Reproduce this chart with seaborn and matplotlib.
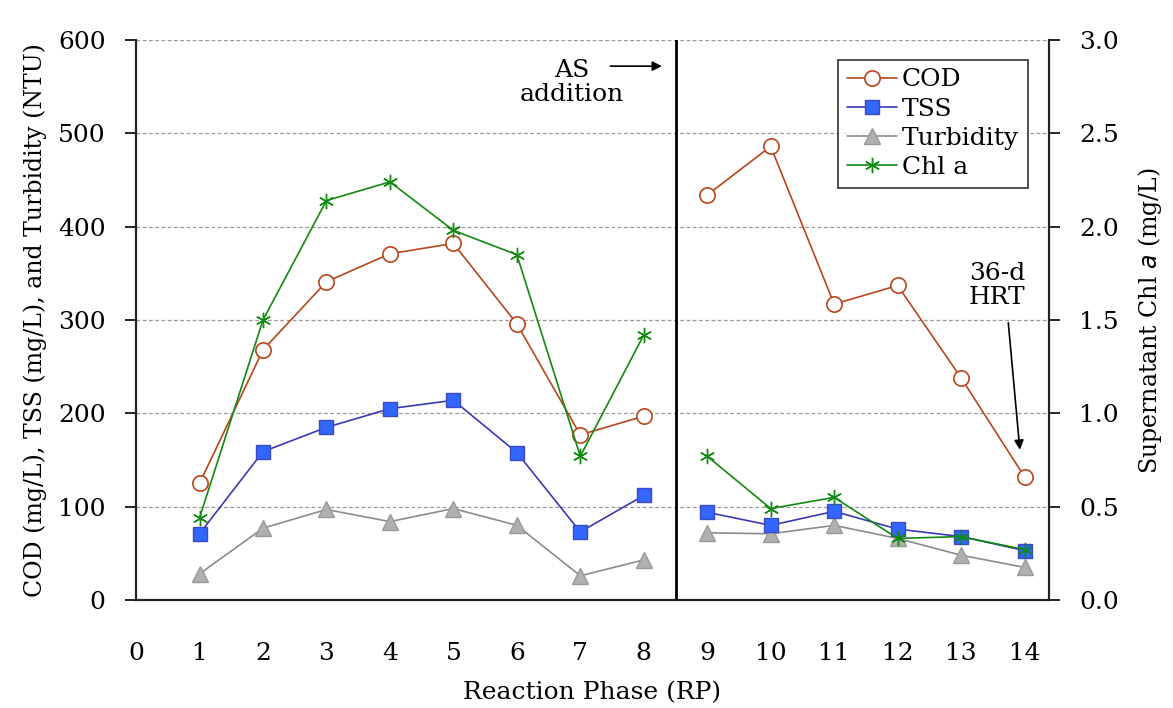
import numpy as np
import pandas as pd
import seaborn as sns
import matplotlib.pyplot as plt
from matplotlib.lines import Line2D

# reaction phases, split by the AS addition at 8.5
phase_a = [1, 2, 3, 4, 5, 6, 7, 8]
phase_b = [9, 10, 11, 12, 13, 14]

cod_a = [125, 268, 341, 371, 382, 296, 177, 197]
cod_b = [434, 486, 317, 337, 238, 132]
tss_a = [71, 159, 185, 205, 214, 158, 73, 112]
tss_b = [94, 80, 95, 76, 68, 53]
turb_a = [28, 77, 97, 84, 98, 80, 26, 43]
turb_b = [72, 71, 80, 66, 48, 35]
chla_a = [0.44, 1.50, 2.14, 2.24, 1.98, 1.85, 0.77, 1.42]
chla_b = [0.77, 0.49, 0.55, 0.33, 0.34, 0.27]

x_ticks = list(range(0, 15))
left_ticks = [0, 100, 200, 300, 400, 500, 600]
right_ticks = [0.0, 0.5, 1.0, 1.5, 2.0, 2.5, 3.0]

sns.set_style("white")
plt.rcParams['font.family'] = ['DejaVu Serif']
plt.rcParams['text.color'] = 'black'
plt.rcParams['axes.labelcolor'] = 'black'

fig = plt.figure(figsize=(11.73, 7.08), dpi=100)
ax = fig.add_axes([0.116, 0.1525, 0.778, 0.791])
ax2 = ax.twinx()

styles = {
    'COD': dict(color='#B8461B', marker='o', markersize=11, markerfacecolor='white',
                markeredgecolor='#B8461B', markeredgewidth=1.2, linewidth=1.2),
    'TSS': dict(color='#3A3AB8', marker='s', markersize=10, markerfacecolor='#3366FF',
                markeredgecolor='#3A4AC0', markeredgewidth=1.0, linewidth=1.2),
    'Turbidity': dict(color='#8C8C8C', marker='^', markersize=11, markerfacecolor='#B0B0B0',
                      markeredgecolor='#9A9A9A', markeredgewidth=1.0, linewidth=1.2),
    'Chl a': dict(color='#108A10', marker=(6, 2, 0), markersize=11, markerfacecolor='#108A10',
                  markeredgecolor='#108A10', markeredgewidth=1.0, linewidth=1.2),
}

for xs, ys in [(phase_a, turb_a), (phase_b, turb_b)]:
    sns.lineplot(x=xs, y=ys, ax=ax, **styles['Turbidity'])
for xs, ys in [(phase_a, tss_a), (phase_b, tss_b)]:
    sns.lineplot(x=xs, y=ys, ax=ax, **styles['TSS'])
for xs, ys in [(phase_a, cod_a), (phase_b, cod_b)]:
    sns.lineplot(x=xs, y=ys, ax=ax, **styles['COD'])
for xs, ys in [(phase_a, chla_a), (phase_b, chla_b)]:
    sns.lineplot(x=xs, y=ys, ax=ax2, **styles['Chl a'])

ax.set_xlim(0, 14.38)
ax.set_ylim(0, 600)
ax2.set_ylim(0, 3.0)
ax.set_xticks(x_ticks)
ax.set_xticklabels([str(t) for t in x_ticks])
ax.set_yticks(left_ticks)
ax2.set_yticks(right_ticks)
ax2.set_yticklabels([f'{t:.1f}' for t in right_ticks])

for y in left_ticks[1:]:
    ax.axhline(y, color='#9A9A9A', linestyle=(0, (3, 2)), linewidth=0.9, zorder=0)
ax.axvline(8.5, color='black', linewidth=2, zorder=1)

for a in (ax, ax2):
    a.spines['top'].set_visible(False)
    for s in ('left', 'right', 'bottom'):
        a.spines[s].set_color('#222222')
        a.spines[s].set_linewidth(1.5)
    a.tick_params(direction='out', length=8, width=1.2, labelsize=18, colors='black', pad=14)
    a.tick_params(axis='x', pad=22)

ax.set_xlabel('Reaction Phase (RP)', fontsize=18, labelpad=12)
ax.set_ylabel('COD (mg/L), TSS (mg/L), and Turbidity (NTU)', fontsize=17, labelpad=8)
ax2.set_ylabel('Supernatant Chl $\\it{a}$ (mg/L)', fontsize=17, labelpad=12)

ax.text(6.87, 554, 'AS\naddition', ha='center', va='center', fontsize=18, linespacing=1.05)
ax.annotate('', xy=(8.33, 572), xytext=(7.43, 572),
            arrowprops=dict(arrowstyle='-|>', color='black', lw=1.2, mutation_scale=14))
ax.text(13.57, 337, '36-d\nHRT', ha='center', va='center', fontsize=18, linespacing=1.05)
ax.annotate('', xy=(13.93, 158), xytext=(13.74, 300),
            arrowprops=dict(arrowstyle='-|>', color='black', lw=1.2, mutation_scale=14))

handles = [Line2D([], [], **styles['COD']),
           Line2D([], [], **styles['TSS']),
           Line2D([], [], **styles['Turbidity']),
           Line2D([], [], **styles['Chl a'])]
leg = ax2.legend(handles, ['COD', 'TSS', 'Turbidity', 'Chl a'], loc='upper right',
                 bbox_to_anchor=(0.977, 0.965), fontsize=18, frameon=True, fancybox=False,
                 handlelength=2.0, handletextpad=0.2, borderpad=0.35, labelspacing=0.25,
                 borderaxespad=0)
leg.get_frame().set_edgecolor('black')
leg.get_frame().set_linewidth(1.2)

fig.savefig('out.png', dpi=100)
